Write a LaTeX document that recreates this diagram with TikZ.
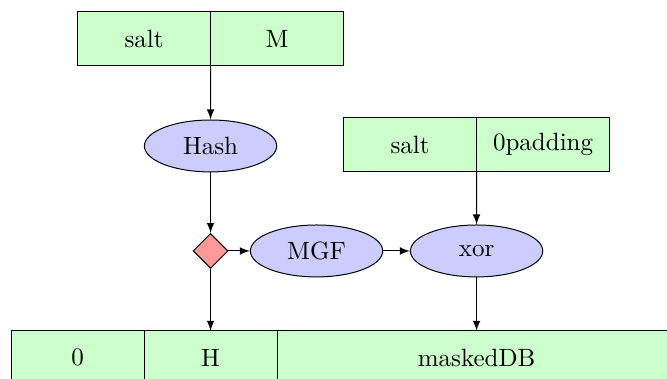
\documentclass[tikz,border=0pt]{standalone}
\usetikzlibrary{shapes.geometric}
\begin{document}
\begin{tikzpicture}[>=latex,
	cell/.style={draw, fill=green!20, minimum width=1.87cm, minimum height=0.75cm, inner sep=0pt, outer sep=0pt},
	func/.style={draw, ellipse, fill=blue!20, minimum width=1.86cm, minimum height=0.73cm, inner sep=0pt},
	choice/.style={draw, diamond, fill=red!40, minimum size=0.49cm, inner sep=0pt}]
			\useasboundingbox (0,0) rectangle (9.377,5.328);
			% input: salt and message
			\node[cell] (salt) at (2.025,4.787) {salt};
			\node[cell] (msg) at (3.895,4.787) {M};
			\node[func] (hash) at (2.96,3.276) {Hash};
			% salt with padding
			\node[cell] (psalt) at (5.765,3.297) {salt};
			\node[cell] (pad) at (7.635,3.297) {0padding};
			% middle row
			\node[choice] (split) at (2.96,1.8) {};
			\node[func] (mgf) at (4.45,1.8) {MGF};
			\node[func] (xor) at (6.70,1.8) {xor};
			% output row
			\node[cell] (zero) at (1.09,0.302) {0};
			\node[cell] (h) at (2.96,0.302) {H};
			\node[cell, minimum width=5.61cm] (masked) at (6.70,0.302) {maskedDB};
			\draw[->] (salt.south east) -- (hash.north);
			\draw[->] (hash.south) -- (split.north);
			\draw[->] (split.east) -- (mgf.west);
			\draw[->] (mgf.east) -- (xor.west);
			\draw[->] (psalt.south east) -- (xor.north);
			\draw[->] (split.south) -- (h.north);
			\draw[->] (xor.south) -- (masked.north);
		\end{tikzpicture}
\end{document}
